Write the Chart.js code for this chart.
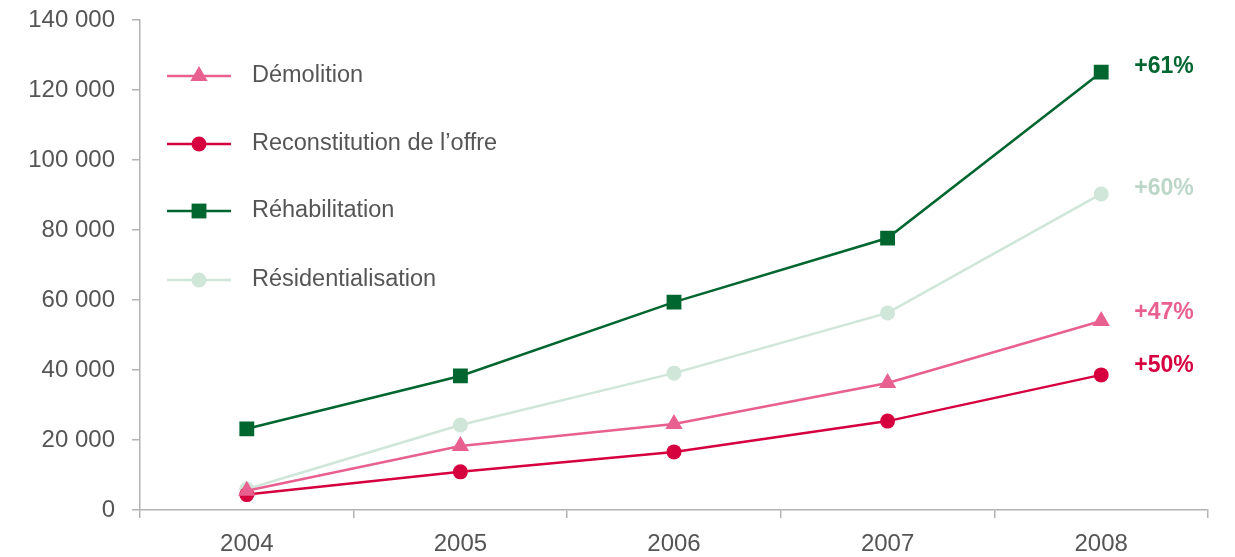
<!DOCTYPE html>
<html>
<head>
<meta charset="utf-8">
<script src="https://cdn.jsdelivr.net/npm/chart.js@4/dist/chart.umd.min.js"></script>
<style>
  html, body { margin: 0; padding: 0; background: #fff; }
  #wrap { width: 1235px; height: 557px; position: relative; }
</style>
</head>
<body>
<div id="wrap"><canvas id="chart"></canvas></div>
<script>
// ------------------- Data -------------------
const years = ['2004', '2005', '2006', '2007', '2008'];
const demolition = [5500, 18300, 24600, 36300, 54000];
const reconstitution = [4400, 10900, 16600, 25400, 38600];
const rehabilitation = [23200, 38300, 59400, 77700, 125100];
const residentialisation = [6000, 24300, 39100, 56300, 90300];
const growthLabels = ['+47%', '+50%', '+61%', '+60%'];
const growthColors = ['#e8608f', '#d6003f', '#00662f', '#bcd7c7'];
const yTicks = [0, 20000, 40000, 60000, 80000, 100000, 120000, 140000];

const AXIS_GREY = '#b3b3b3';
const TEXT_GREY = '#555555';
const FONT = 'Liberation Sans, Arial, sans-serif';

// ------------------- Plugin: inline legend -------------------
const inlineLegend = {
  id: 'inlineLegend',
  afterDatasetsDraw(chart) {
    const ctx = chart.ctx;
    const rows = [76, 144, 211, 280];
    chart.data.datasets.forEach((ds, i) => {
      const y = rows[i];
      ctx.save();
      ctx.strokeStyle = ds.borderColor;
      ctx.lineWidth = 2.5;
      ctx.beginPath();
      ctx.moveTo(167, y);
      ctx.lineTo(231, y);
      ctx.stroke();
      ctx.fillStyle = ds.backgroundColor;
      Chart.helpers.drawPoint(ctx, {
        pointStyle: ds.pointStyle,
        radius: ds.pointRadius,
        borderWidth: 0
      }, 199, y);
      ctx.fillStyle = TEXT_GREY;
      ctx.font = '23.5px ' + FONT;
      ctx.textBaseline = 'middle';
      ctx.fillText(ds.label, 252, y);
      ctx.restore();
    });
  }
};

// ------------------- Plugin: growth labels -------------------
const growthTags = {
  id: 'growthTags',
  afterDatasetsDraw(chart) {
    const ctx = chart.ctx;
    const offsets = [-8, -9, -5, -5];
    chart.data.datasets.forEach((ds, i) => {
      const meta = chart.getDatasetMeta(i);
      const pt = meta.data[meta.data.length - 1];
      ctx.save();
      ctx.font = 'bold 23px ' + FONT;
      ctx.fillStyle = growthColors[i];
      ctx.textBaseline = 'middle';
      ctx.fillText(growthLabels[i], pt.x + 33, pt.y + offsets[i]);
      ctx.restore();
    });
  }
};

function series(label, data, color, style, radius) {
  return {
    label: label,
    data: data,
    borderColor: color,
    backgroundColor: color,
    borderWidth: 2.5,
    pointStyle: style,
    pointRadius: radius,
    pointHoverRadius: radius,
    pointBorderWidth: 0,
    tension: 0
  };
}

new Chart(document.getElementById('chart'), {
  type: 'line',
  data: {
    labels: years,
    datasets: [
      series('Démolition', demolition, '#e8608f', 'triangle', 10),
      series('Reconstitution de l\u2019offre', reconstitution, '#d6003f', 'circle', 7.5),
      series('Réhabilitation', rehabilitation, '#00662f', 'rect', 10.5),
      series('Résidentialisation', residentialisation, '#cfe6d9', 'circle', 7.5)
    ]
  },
  options: {
    responsive: true,
    maintainAspectRatio: false,
    animation: false,
    layout: { padding: { top: 20, right: 27, left: 0, bottom: 0 } },
    plugins: {
      legend: { display: false },
      tooltip: { enabled: false }
    },
    scales: {
      x: {
        offset: true,
        grid: {
          offset: true,
          drawOnChartArea: false,
          color: AXIS_GREY,
          tickLength: 8,
          lineWidth: 1.5
        },
        border: { color: AXIS_GREY, width: 1.5 },
        ticks: {
          color: TEXT_GREY,
          font: { family: FONT, size: 24 },
          padding: 12
        },
        afterFit: s => { s.height = 47; }
      },
      y: {
        min: 0,
        max: 140000,
        afterBuildTicks: s => { s.ticks = yTicks.map(v => ({ value: v })); },
        grid: {
          drawOnChartArea: false,
          color: AXIS_GREY,
          tickLength: 8,
          lineWidth: 1.5
        },
        border: { color: AXIS_GREY, width: 1.5 },
        ticks: {
          color: TEXT_GREY,
          font: { family: FONT, size: 24 },
          padding: 17,
          callback: v => v.toLocaleString('fr-FR').replace(/[\u202f\u00a0]/g, ' ')
        },
        afterFit: s => { s.width = 140; s.paddingTop = 0; s.paddingBottom = 0; }
      }
    }
  },
  plugins: [inlineLegend, growthTags]
});
</script>
</body>
</html>
